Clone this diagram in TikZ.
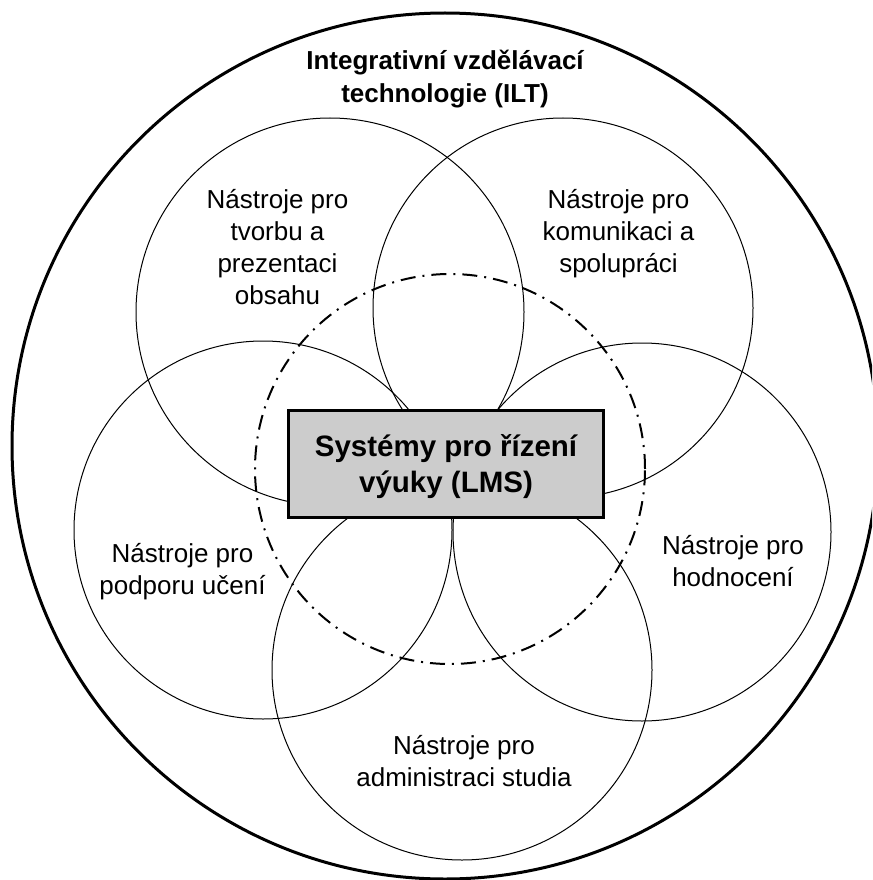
\documentclass[tikz,border=0pt]{standalone}
\usepackage{fontspec}
\setmainfont{Liberation Sans}
\begin{document}
\begin{tikzpicture}[x=1pt,y=-1pt,
  ring/.style={circle, draw=black, line width=1pt, inner sep=0pt},
  outerring/.style={circle, draw=black, line width=3pt, inner sep=0pt},
  coreborder/.style={circle, draw=black, line width=2pt, inner sep=0pt,
    dash pattern=on 15pt off 7pt on 2pt off 7pt},
  lmsbox/.style={rectangle, draw=black, line width=3pt, fill=black!20, inner sep=0pt},
  label/.style={anchor=base, inner sep=0pt, font=\fontsize{26}{32}\selectfont},
  title/.style={anchor=base, inner sep=0pt, font=\fontsize{26}{33}\selectfont\bfseries},
  boxtext/.style={anchor=base, inner sep=0pt, font=\fontsize{29.5}{36}\selectfont\bfseries}]
  \clip (0,0) rectangle (872,880);
  \fill[white] (0,0) rectangle (872,880);

  % whole field of integrative technologies
  \node[outerring, minimum size=866pt] (ilt) at (445,446) {};

  % five tool groups around the LMS
  \node[ring, minimum size=388pt] (create) at (330,312) {};
  \node[ring, minimum size=380pt] (comm)   at (563,308) {};
  \node[ring, minimum size=378pt] (learn)  at (263,530) {};
  \node[ring, minimum size=378pt] (assess) at (642,532) {};
  \node[ring, minimum size=380pt] (admin)  at (462,670) {};

  % scope of the LMS
  \node[coreborder, minimum size=390pt] (scope) at (450,469) {};

  % central box
  \node[lmsbox, minimum width=315pt, minimum height=107pt] (lms) at (445.5,464) {};
  \node[boxtext] (lmstext) at (446,456)
    {\begin{tabular}[t]{@{}c@{}}Systémy pro řízení\\výuky (LMS)\end{tabular}};

  % texts
  \node[title] (ilttext) at (445,70)
    {\begin{tabular}[t]{@{}c@{}}Integrativní vzdělávací\\technologie (ILT)\end{tabular}};
  \node[label] (createtext) at (277.5,208)
    {\begin{tabular}[t]{@{}c@{}}Nástroje pro\\tvorbu a\\prezentaci\\obsahu\end{tabular}};
  \node[label] (commtext) at (618.5,208)
    {\begin{tabular}[t]{@{}c@{}}Nástroje pro\\komunikaci a\\spolupráci\end{tabular}};
  \node[label] (learntext) at (182.5,562)
    {\begin{tabular}[t]{@{}c@{}}Nástroje pro\\podporu učení\end{tabular}};
  \node[label] (assesstext) at (733,554)
    {\begin{tabular}[t]{@{}c@{}}Nástroje pro\\hodnocení\end{tabular}};
  \node[label] (admintext) at (464,754)
    {\begin{tabular}[t]{@{}c@{}}Nástroje pro\\administraci studia\end{tabular}};
\end{tikzpicture}
\end{document}
